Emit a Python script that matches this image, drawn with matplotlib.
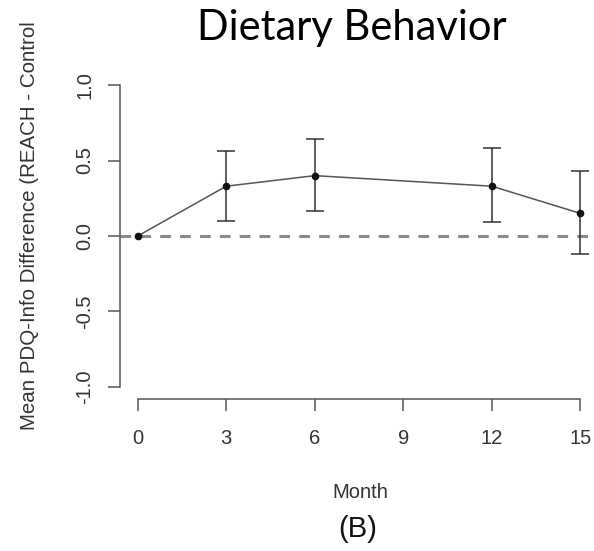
import matplotlib.pyplot as plt

# data
months = [0, 3, 6, 12, 15]
mean_diff = [0.0, 0.33, 0.40, 0.33, 0.15]
ci_low = [0.0, 0.10, 0.165, 0.09, -0.12]
ci_high = [0.0, 0.56, 0.645, 0.58, 0.43]
x_ticks = [0, 3, 6, 9, 12, 15]
y_ticks = [-1.0, -0.5, 0.0, 0.5, 1.0]

fig = plt.figure(figsize=(5.94, 5.51), dpi=100)
# R-style plot region, slightly wider than the figure on the right
ax = fig.add_axes([120 / 594, 152 / 551, 478 / 594, 326 / 551])
ax.set_xlim(-0.6, 15.6)
ax.set_ylim(-1.08, 1.08)

ax.axhline(0, color="#8a8a8a", lw=2.2, ls=(0, (3.5, 3)), zorder=1)

err_lo = [m - l for m, l in zip(mean_diff, ci_low)]
err_hi = [h - m for m, h in zip(mean_diff, ci_high)]
mask = [i for i in range(len(months)) if months[i] != 0]
ax.errorbar([months[i] for i in mask], [mean_diff[i] for i in mask],
            yerr=[[err_lo[i] for i in mask], [err_hi[i] for i in mask]],
            fmt="none", ecolor="#333333", elinewidth=1.1, capsize=6.8,
            capthick=1.1, zorder=2)
ax.plot(months, mean_diff, color="#555555", lw=1.1, marker="o", ms=4.5,
        mfc="#111111", mec="#111111", zorder=3)

for s in ["top", "right"]:
    ax.spines[s].set_visible(False)
ax.spines["left"].set_bounds(-1, 1)
ax.spines["bottom"].set_bounds(0, 15)
for s in ["left", "bottom"]:
    ax.spines[s].set_color("#555555")
    ax.spines[s].set_linewidth(1.1)

ax.set_xticks(x_ticks)
ax.set_xticklabels([str(t) for t in x_ticks])
ax.set_yticks(y_ticks)
ax.set_yticklabels(["%.1f" % t for t in y_ticks], rotation=90, va="center")
ax.tick_params(axis="both", direction="out", length=8.5, width=1.1,
               color="#555555", labelsize=14.5, labelcolor="#333333")
ax.tick_params(axis="x", pad=13)
ax.tick_params(axis="y", pad=10)
for lab in ax.get_xticklabels() + ax.get_yticklabels():
    lab.set_family("Liberation Sans")

# closing bracket is cut off in the source figure
fig.text(30 / 594, 1 - 226 / 551, "Mean PDQ-Info Difference (REACH - Control",
         rotation=90, ha="center", va="center", fontsize=14.8,
         color="#333333", family="Liberation Sans")
fig.text(360 / 594, 1 - 492 / 551, "Month", ha="center", va="center",
         fontsize=14.5, color="#333333", family="Liberation Sans")
fig.text(358 / 594, 1 - 529 / 551, "(B)", ha="center", va="center",
         fontsize=21, color="#111111", family="Liberation Sans")
fig.text(352 / 594, 1 - 28 / 551, "Dietary Behavior", ha="center",
         va="center", fontsize=30, color="black", family="Lato")

fig.savefig("out.png", dpi=100)
